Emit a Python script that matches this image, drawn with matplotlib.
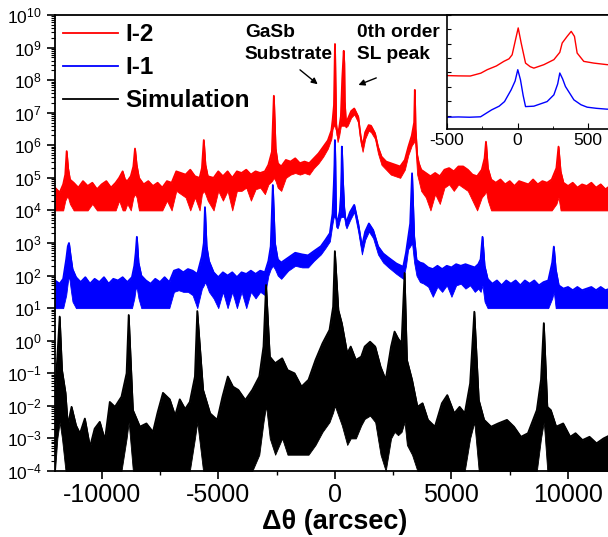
import numpy as np
import matplotlib
matplotlib.use("Agg")
import matplotlib.pyplot as plt
from matplotlib.ticker import LogLocator, MultipleLocator, NullFormatter

plt.rcParams['font.family'] = ['Liberation Sans', 'DejaVu Sans']
plt.rcParams['mathtext.fontset'] = 'custom'
plt.rcParams['mathtext.rm'] = 'Liberation Sans'
plt.rcParams['mathtext.it'] = 'Liberation Sans:italic'
plt.rcParams['mathtext.bf'] = 'Liberation Sans:bold'
plt.rcParams['axes.unicode_minus'] = False

# ---- I-2 (offset scan): angle (arcsec), upper / lower envelope in log10(counts)
red_x = [-12000, -11800, -11650, -11560, -11500, -11440, -11360, -11200, -11000, -10800,
         -10600, -10400, -10200, -10000, -9800, -9600, -9400, -9250, -9100, -9000,
         -8900, -8750, -8640, -8570, -8500, -8400, -8200, -8000, -7800, -7600,
         -7400, -7200, -7000, -6800, -6600, -6400, -6200, -6000, -5800, -5700,
         -5620, -5550, -5450, -5200, -5000, -4800, -4600, -4400, -4200, -4000,
         -3800, -3600, -3400, -3200, -3000, -2850, -2700, -2616, -2540, -2450,
         -2300, -2100, -1900, -1700, -1500, -1300, -1100, -900, -700, -500,
         -300, -150, -97, -38, -14, 5, 26, 57, 116, 187,
         258, 317, 352, 381, 404, 423, 470, 550, 700, 830,
         1000, 1100, 1190, 1300, 1450, 1550, 1720, 1850, 2000, 2200,
         2400, 2600, 2800, 3000, 3150, 3300, 3400, 3430, 3460, 3530,
         3600, 3700, 3900, 4100, 4300, 4500, 4700, 4900, 5100, 5300,
         5500, 5700, 5900, 6100, 6300, 6420, 6480, 6560, 6700, 6900,
         7100, 7300, 7500, 7700, 7900, 8100, 8300, 8500, 8700, 8900,
         9100, 9300, 9500, 9590, 9680, 9800, 10000, 10200, 10400, 10600,
         10800, 11000, 11200, 11400, 11600, 11800, 12000]
red_hi = [4.70, 4.55, 4.80, 5.10, 5.82, 5.30, 4.95, 4.85, 4.70, 4.90,
          4.75, 4.85, 4.65, 4.80, 4.90, 4.70, 4.85, 5.00, 5.20, 4.95,
          4.90, 5.05, 5.35, 5.90, 5.40, 5.00, 4.80, 4.90, 4.75, 4.85,
          4.70, 4.90, 4.85, 5.20, 5.15, 5.10, 5.25, 5.05, 5.00, 5.30,
          6.16, 5.40, 5.05, 5.00, 5.20, 5.05, 5.20, 5.00, 5.20, 5.15,
          5.25, 5.10, 5.20, 5.15, 5.20, 5.40, 5.80, 7.52, 5.90, 5.45,
          5.35, 5.55, 5.50, 5.60, 5.45, 5.50, 5.45, 5.60, 5.75, 5.95,
          6.15, 6.45, 6.77, 7.23, 8.28, 9.11, 8.05, 6.65, 6.30, 6.54,
          6.89, 8.05, 8.51, 8.90, 8.51, 7.35, 6.77, 6.80, 7.05, 7.13,
          6.88, 6.30, 5.96, 6.40, 6.62, 6.60, 6.37, 5.95, 5.65, 5.50,
          5.45, 5.40, 5.35, 5.55, 5.95, 6.30, 6.70, 7.70, 6.50, 5.70,
          5.45, 5.25, 5.15, 5.05, 5.15, 5.05, 5.25, 5.30, 5.20, 5.35,
          5.35, 5.25, 5.10, 5.05, 5.25, 5.60, 6.11, 5.30, 4.95, 4.85,
          4.95, 4.80, 4.90, 4.75, 4.90, 4.85, 4.80, 4.95, 4.80, 4.90,
          4.85, 4.95, 5.30, 5.96, 5.20, 4.85, 4.75, 4.85, 4.70, 4.80,
          4.75, 4.85, 4.70, 4.80, 4.65, 4.75, 4.70]
red_lo = [4.0, 4.0, 4.0, 4.3, 4.4, 4.4, 4.2, 4.0, 4.0, 4.0,
          4.0, 4.2, 4.0, 4.0, 4.0, 4.0, 4.0, 4.3, 4.0, 4.0,
          4.2, 4.0, 4.4, 4.5, 4.4, 4.0, 4.0, 4.0, 4.0, 4.0,
          4.0, 4.3, 4.0, 4.6, 4.5, 4.4, 4.0, 4.4, 4.0, 4.5,
          4.6, 4.5, 4.3, 4.0, 4.6, 4.3, 4.6, 4.0, 4.6, 4.6,
          4.7, 4.3, 4.65, 4.7, 4.5, 4.8, 4.9, 5.0, 4.9, 4.7,
          4.6, 5.0, 5.1, 5.15, 5.1, 5.15, 5.1, 5.3, 5.45, 5.65,
          5.9, 6.2, 6.5, 6.6, 6.6, 6.6, 6.5, 6.45, 6.1, 6.3,
          6.6, 6.6, 6.6, 6.6, 6.6, 6.6, 6.55, 6.6, 6.85, 6.95,
          6.7, 6.1, 5.8, 6.2, 6.45, 6.4, 6.2, 5.75, 5.4, 5.25,
          5.1, 5.05, 5.0, 5.25, 5.7, 6.0, 6.1, 6.2, 5.9, 5.1,
          4.9, 4.6, 4.4, 4.0, 4.5, 4.2, 4.7, 4.8, 4.6, 4.8,
          4.7, 4.6, 4.3, 4.0, 4.4, 4.5, 4.6, 4.3, 4.0, 4.0,
          4.0, 4.0, 4.0, 4.0, 4.0, 4.0, 4.0, 4.0, 4.0, 4.0,
          4.0, 4.0, 4.2, 4.4, 4.0, 4.0, 4.0, 4.0, 4.0, 4.0,
          4.0, 4.0, 4.0, 4.0, 4.0, 4.0, 4.0]

# ---- I-1
blue_x = [-12000, -11800, -11650, -11520, -11450, -11400, -11330, -11250, -11100, -10900,
          -10700, -10500, -10300, -10100, -9900, -9700, -9500, -9300, -9100, -8900,
          -8700, -8600, -8540, -8490, -8420, -8300, -8100, -7900, -7700, -7500,
          -7300, -7100, -6900, -6700, -6500, -6300, -6100, -5900, -5700, -5620,
          -5570, -5500, -5400, -5200, -5000, -4800, -4600, -4400, -4200, -4000,
          -3800, -3600, -3400, -3200, -3000, -2850, -2750, -2660, -2570, -2450,
          -2300, -2000, -1700, -1400, -1150, -900, -600, -400, -215, -100,
          -45, -17, 2, 21, 40, 57, 116, 160, 210, 258,
          285, 300, 320, 340, 400, 450, 500, 650, 830, 1000,
          1160, 1300, 1460, 1640, 1850, 2070, 2300, 2640, 2930, 3050,
          3140, 3230, 3310, 3400, 3500, 3650, 3790, 4000, 4200, 4400,
          4600, 4800, 5000, 5200, 5400, 5600, 5800, 6000, 6150, 6250,
          6330, 6420, 6550, 6750, 6950, 7150, 7350, 7550, 7750, 7950,
          8150, 8350, 8550, 8750, 8950, 9150, 9320, 9390, 9470, 9600,
          9800, 10000, 10200, 10400, 10600, 10800, 11000, 11200, 11400, 11600,
          11800, 12000]
blue_hi = [1.85, 1.75, 1.90, 2.50, 2.90, 3.00, 2.60, 2.20, 1.95, 1.80,
           1.95, 1.75, 1.90, 1.80, 1.95, 1.75, 1.90, 1.85, 1.95, 1.80,
           1.95, 2.30, 2.70, 3.19, 2.40, 2.00, 1.85, 1.75, 1.90, 1.80,
           1.95, 1.80, 2.15, 2.20, 2.10, 2.20, 2.15, 2.05, 2.60, 3.00,
           4.10, 2.90, 2.45, 2.10, 1.95, 2.10, 2.00, 2.10, 1.95, 2.10,
           2.05, 2.15, 2.05, 2.15, 2.10, 2.45, 2.90, 4.78, 3.00, 2.50,
           2.40, 2.55, 2.70, 2.65, 2.62, 2.75, 2.90, 3.10, 3.30, 3.90,
           4.79, 5.40, 6.16, 5.49, 4.40, 3.75, 3.70, 3.80, 3.97, 4.44,
           5.20, 5.96, 5.55, 5.02, 4.09, 3.75, 3.65, 3.95, 4.17, 3.60,
           2.89, 3.35, 3.60, 3.40, 2.90, 2.68, 2.55, 2.37, 2.27, 2.70,
           3.14, 3.60, 5.14, 3.20, 2.48, 2.40, 2.37, 2.25, 2.20, 2.30,
           2.20, 2.30, 2.25, 2.35, 2.30, 2.35, 2.30, 2.25, 2.35, 2.50,
           3.19, 2.30, 1.90, 1.75, 1.85, 1.70, 1.85, 1.75, 1.85, 1.70,
           1.85, 1.75, 1.85, 1.70, 1.80, 1.85, 2.40, 2.89, 2.20, 1.70,
           1.60, 1.65, 1.55, 1.65, 1.55, 1.60, 1.65, 1.55, 1.65, 1.55,
           1.60, 1.55]
blue_lo = [1.0, 1.0, 1.0, 1.4, 1.8, 2.0, 1.6, 1.2, 1.0, 1.0,
           1.0, 1.0, 1.0, 1.0, 1.0, 1.0, 1.0, 1.0, 1.0, 1.0,
           1.0, 1.3, 1.6, 1.6, 1.3, 1.0, 1.0, 1.0, 1.0, 1.0,
           1.0, 1.0, 1.5, 1.55, 1.5, 1.5, 1.4, 1.0, 1.6, 1.7,
           1.8, 1.7, 1.5, 1.3, 1.0, 1.5, 1.0, 1.5, 1.0, 1.5,
           1.0, 1.5, 1.3, 1.5, 1.4, 2.0, 2.2, 2.3, 2.2, 2.0,
           1.9, 2.15, 2.3, 2.25, 2.25, 2.45, 2.65, 2.85, 3.05, 3.6,
           3.8, 3.8, 3.8, 3.8, 3.6, 3.5, 3.45, 3.55, 3.7, 3.8,
           3.8, 3.8, 3.8, 3.8, 3.8, 3.55, 3.45, 3.7, 3.95, 3.35,
           2.65, 3.1, 3.35, 3.15, 2.65, 2.4, 2.25, 2.05, 1.9, 2.3,
           2.8, 2.9, 3.0, 2.4, 2.0, 1.8, 1.76, 1.66, 1.35, 1.66,
           1.5, 1.7, 1.35, 1.7, 1.75, 1.6, 1.7, 1.5, 1.6, 1.5,
           1.7, 1.2, 1.0, 1.0, 1.0, 1.0, 1.0, 1.0, 1.0, 1.0,
           1.0, 1.0, 1.0, 1.0, 1.0, 1.0, 1.3, 1.5, 1.0, 1.0,
           1.0, 1.0, 1.0, 1.0, 1.0, 1.0, 1.0, 1.0, 1.0, 1.0,
           1.0, 1.0]

# ---- Simulation
sim_x = [-12000, -11900, -11800, -11700, -11550, -11450, -11290, -11100, -10930, -10720,
         -10500, -10300, -10080, -9860, -9650, -9430, -9150, -8930, -8840, -8660,
         -8360, -8080, -7800, -7600, -7370, -7080, -6850, -6650, -6420, -6220,
         -6000, -5900, -5650, -5350, -5045, -4820, -4590, -4370, -4140, -3840,
         -3540, -3240, -3060, -2950, -2790, -2560, -2260, -2030, -1730, -1430,
         -1130, -830, -530, -230, -75, 0, 150, 300, 530, 680,
         900, 1130, 1280, 1510, 1730, 1960, 2180, 2410, 2560, 2710,
         2860, 2990, 3090, 3310, 3540, 3760, 3990, 4290, 4590, 4820,
         5120, 5350, 5570, 5800, 5980, 6170, 6400, 6700, 7000, 7380,
         7680, 7980, 8280, 8660, 8840, 8960, 9110, 9260, 9490, 9790,
         10090, 10320, 10620, 10920, 11220, 11520, 11800, 12000]
sim_hi = [-1.70, -0.50, 0.74, -0.90, -1.60, -2.60, -2.03, -2.60, -2.85, -2.39,
          -3.26, -2.70, -2.49, -3.05, -1.88, -2.03, -1.72, -1.00, 0.79, -2.13,
          -2.64, -2.54, -2.80, -2.20, -1.60, -1.80, -2.30, -1.80, -2.10, -1.88,
          -1.10, 0.91, -1.51, -2.23, -2.43, -1.72, -1.10, -1.41, -1.51, -1.82,
          -1.51, -1.10, -0.18, 1.71, -0.49, -0.69, -0.54, -0.90, -1.00, -1.41,
          -1.20, -0.59, -0.08, 0.33, 1.04, 2.75, 0.94, 0.53, -0.39, -0.18,
          -0.59, -0.49, -0.18, -0.03, -0.18, -0.80, -1.20, -0.18, 0.28, 0.07,
          -0.08, 2.08, -0.59, -1.20, -2.03, -1.92, -2.43, -2.64, -1.92, -1.67,
          -2.23, -2.03, -2.23, -1.31, 0.89, -1.82, -2.43, -2.64, -2.54, -2.43,
          -2.64, -2.95, -2.84, -2.13, -1.20, 0.54, -2.03, -2.13, -2.64, -2.54,
          -2.95, -2.84, -3.05, -2.95, -3.15, -3.00, -2.90, -3.05]
sim_lo = [-4, -3.0, -2.5, -3.0, -4, -4, -4, -4, -4, -4,
          -4, -4, -4, -4, -4, -4, -4, -3.0, -2.5, -4,
          -4, -4, -4, -4, -4, -4, -4, -4, -4, -4,
          -3.0, -2.5, -4, -4, -4, -4, -4, -4, -4, -4,
          -4, -3.5, -2.5, -2.0, -3.0, -3.5, -3.0, -3.5, -3.5, -3.5,
          -3.5, -3.2, -2.8, -2.5, -2.2, -2.0, -2.3, -2.6, -3.2, -3.0,
          -3.0, -2.6, -2.4, -2.3, -2.5, -3.5, -4, -3.0, -2.8, -2.9,
          -2.8, -2.5, -3.2, -3.5, -4, -4, -4, -4, -4, -4,
          -4, -4, -4, -3.0, -2.5, -4, -4, -4, -4, -4,
          -4, -4, -4, -4, -3.0, -2.5, -4, -4, -4, -4,
          -4, -4, -4, -4, -4, -4, -4, -4]

# ---- Close-up around the substrate / 0th-order SL peaks
inset_red_x = [-500, -420, -335, -260, -215, -150, -97, -60, -38, -14,
               5, 26, 57, 90, 116, 187, 258, 300, 317, 352,
               381, 404, 423, 470, 541, 636, 700]
inset_red = [5.78, 5.76, 5.75, 5.95, 6.19, 6.45, 6.77, 6.95, 7.23, 8.28,
             9.10, 8.05, 6.65, 6.40, 6.30, 6.54, 6.89, 7.40, 8.05, 8.51,
             8.86, 8.51, 7.35, 6.77, 6.65, 6.54, 6.55]
inset_blue_x = [-500, -420, -340, -262, -184, -130, -92, -45, -17, 2,
                21, 40, 57, 116, 160, 210, 258, 285, 300, 320,
                340, 400, 450, 494, 560, 636, 700]
inset_blue = [2.88, 2.90, 2.88, 2.91, 3.39, 3.65, 3.97, 4.79, 5.40, 6.19,
              5.49, 4.40, 3.62, 3.65, 3.80, 3.97, 4.44, 5.20, 5.96, 5.55,
              5.02, 4.09, 3.75, 3.58, 3.50, 3.44, 3.45]

labels = ["I-2", "I-1", "Simulation"]
colors = ["#ff0000", "#0000ff", "#000000"]

W, H = 608, 537
fig = plt.figure(figsize=(W / 100, H / 100), dpi=100)
ax = fig.add_axes([55 / W, 1 - 471 / H, 559.7 / W, 456 / H])

series = [(red_x, red_hi, red_lo), (blue_x, blue_hi, blue_lo), (sim_x, sim_hi, sim_lo)]
for (xs, hi, lo), c, lab in zip(series, colors, labels):
    xs = np.asarray(xs, float)
    hi = 10.0 ** np.asarray(hi)
    lo = 10.0 ** np.asarray(lo)
    ax.fill_between(xs, lo, hi, color=c, lw=0.6)
    ax.plot(xs, hi, color=c, lw=1.3, label=lab)

ax.set_yscale('log')
ax.set_xlim(-12000, 12000)
ax.set_ylim(1e-4, 1e10)
ax.yaxis.set_major_locator(LogLocator(base=10, numticks=30))
ax.yaxis.set_minor_locator(LogLocator(base=10, subs=np.arange(2, 10), numticks=30))
ax.yaxis.set_minor_formatter(NullFormatter())
ax.xaxis.set_major_locator(MultipleLocator(5000))
ax.xaxis.set_minor_locator(MultipleLocator(2500))
ax.tick_params(axis='y', which='major', direction='out', length=6, width=1.2, labelsize=12.5)
ax.tick_params(axis='y', which='minor', direction='out', length=3, width=0.8)
ax.tick_params(axis='x', which='major', direction='out', length=6, width=1.2, labelsize=18, pad=3)
ax.tick_params(axis='x', which='minor', direction='out', length=3, width=1)
ax.tick_params(top=False, right=False)
for s in ax.spines.values():
    s.set_linewidth(1.3)

ax.set_xlabel("Δθ (arcsec)", fontsize=19.5, fontweight='bold', labelpad=1)

leg = ax.legend(loc='upper left', bbox_to_anchor=(0.0, 1.0), frameon=False,
                prop={'weight': 'bold', 'size': 17.5}, handlelength=2.26,
                handletextpad=0.29, labelspacing=0.42, borderaxespad=0.0,
                borderpad=0.33)

# annotations for the two strong reflections
ax.text(-3860, 10 ** 9.72, "GaSb\nSubstrate", fontsize=13.8, fontweight='bold',
        ha='left', va='top', linespacing=1.35)
ax.text(943, 10 ** 9.72, "0th order\nSL peak", fontsize=13.8, fontweight='bold',
        ha='left', va='top', linespacing=1.35)
ax.annotate("", xy=(-643, 10 ** 7.82), xytext=(-1587, 10 ** 8.37),
            arrowprops=dict(arrowstyle='-|>', color='black', lw=1, mutation_scale=9))
ax.annotate("", xy=(900, 10 ** 7.82), xytext=(1887, 10 ** 8.10),
            arrowprops=dict(arrowstyle='-|>', color='black', lw=1, mutation_scale=9))

# inset
axi = fig.add_axes([447 / W, 1 - 129 / H, 169.2 / W, 114 / H])
axi.plot(inset_red_x, 10.0 ** np.asarray(inset_red), color=colors[0], lw=1)
axi.plot(inset_blue_x, 10.0 ** np.asarray(inset_blue), color=colors[1], lw=1)
axi.set_yscale('log')
axi.set_xlim(-500, 700)
axi.set_ylim(10 ** 2.06, 1e10)
axi.xaxis.set_major_locator(MultipleLocator(500))
axi.xaxis.set_minor_locator(MultipleLocator(250))
axi.yaxis.set_major_locator(LogLocator(base=10, numticks=20))
axi.yaxis.set_minor_locator(LogLocator(base=10, subs=[], numticks=20))
axi.yaxis.set_major_formatter(NullFormatter())
axi.tick_params(axis='both', which='both', direction='in', top=False, right=False)
axi.tick_params(axis='x', which='major', length=4, labelsize=12.5, pad=3)
axi.tick_params(axis='x', which='minor', length=2.5)
axi.tick_params(axis='y', which='major', length=3)
for s in axi.spines.values():
    s.set_linewidth(1.2)

fig.savefig("out.png", dpi=100)
